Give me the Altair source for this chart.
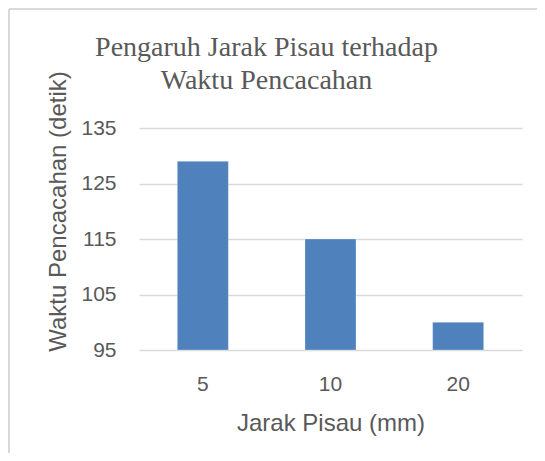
import altair as alt
import pandas as pd

categories = ["5", "10", "20"]
values = [129, 115, 100]
baseline = 95
y_ticks = [95, 105, 115, 125, 135]
title_lines = ["Pengaruh Jarak Pisau terhadap", "Waktu Pencacahan"]
x_title = "Jarak Pisau (mm)"
y_title = "Waktu Pencacahan (detik)"

df = pd.DataFrame({"jarak": categories, "waktu": values})

TEXT = "#595959"
GRID = "#d9d9d9"
SANS = "Liberation Sans"

bars = alt.Chart(df).mark_bar(color="#4f81bd", stroke="#ffffff", strokeWidth=0.6, strokeOpacity=0.5).encode(
    x=alt.X("jarak:N", sort=categories,
            scale=alt.Scale(paddingInner=0.6, paddingOuter=0.3),
            axis=alt.Axis(title=x_title, labelAngle=0, domain=False, ticks=False, tickSize=0,
                          labelPadding=23, labelFontSize=21, labelColor=TEXT, labelFont=SANS,
                          titleFont=SANS, titleFontSize=24, titleColor=TEXT, titleFontWeight="normal",
                          titleBaseline="alphabetic", titleY=80)),
    y=alt.Y("waktu:Q", scale=alt.Scale(domain=[y_ticks[0], y_ticks[-1]], zero=False, nice=False),
            axis=alt.Axis(title=y_title, values=y_ticks, domain=False, ticks=False, tickSize=0,
                          labelPadding=23, labelFontSize=21, labelColor=TEXT, labelFont=SANS,
                          gridColor=GRID, gridWidth=1.3,
                          titleFont=SANS, titleFontSize=24, titleColor=TEXT, titleFontWeight="normal",
                          titleAngle=-90, titleBaseline="alphabetic", titleAlign="center",
                          titleX=-74, titleY=83)),
    y2=alt.datum(baseline),
)

frame_top = alt.Chart(df).mark_rule(color=GRID, strokeWidth=2).encode(
    x=alt.value(-130), x2=alt.value(420), y=alt.value(-119))
frame_left = alt.Chart(df).mark_rule(color=GRID, strokeWidth=2).encode(
    x=alt.value(-130), y=alt.value(-119), y2=alt.value(340))

chart = alt.layer(frame_top, frame_left, bars).properties(
    width=383, height=222,
    title=alt.TitleParams(text=title_lines, font="Liberation Serif", fontSize=28, color=TEXT,
                          fontWeight="normal", lineHeight=33, anchor="middle", dx=-64, offset=-87),
    padding={"left": 131, "top": 120, "right": 15, "bottom": 103},
    autosize=alt.AutoSizeParams(type="none"),
).configure_view(stroke=None).configure_axis(grid=True).configure_axisX(grid=False)

chart.save("out.html", embed_options={"renderer": "svg", "actions": False})
